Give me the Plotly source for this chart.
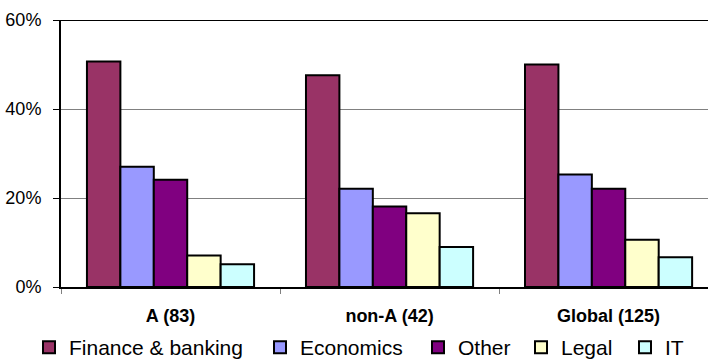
import plotly.graph_objects as go

# Share of respondents by field of study, per group
groups = ["A (83)", "non-A (42)", "Global (125)"]
series_names = ["Finance & banking", "Economics", "Other", "Legal", "IT"]
finance = [50.7, 47.6, 50.0]
economics = [27.0, 22.1, 25.3]
other = [24.1, 18.1, 22.1]
legal = [7.1, 16.6, 10.6]
it = [5.1, 9.0, 6.7]
y_ticks = [0, 20, 40, 60]
y_tick_text = ["0%", "20%", "40%", "60%"]

series_values = [finance, economics, other, legal, it]
colors = ["#993366", "#9999FF", "#800080", "#FFFFCC", "#CCFFFF"]

FONT = "Arial, 'Liberation Sans', sans-serif"

# One legend box per series, laid out in a single row under the axis
legend_ids = ["legend", "legend2", "legend3", "legend4", "legend5"]
legend_x = [29, 260, 418, 521, 625]  # left edge of each legend box, px

fig = go.Figure()
for name, vals, col, lid in zip(series_names, series_values, colors, legend_ids):
    fig.add_trace(go.Bar(
        name=name, x=groups, y=vals, legend=lid,
        marker=dict(color=col, line=dict(color="black", width=2)),
    ))

W, H = 708, 360
legend_style = dict(
    orientation="h", xref="container", yref="container",
    xanchor="left", y=1 - 347.5 / H, yanchor="middle",
    font=dict(size=21, family=FONT), itemwidth=30,
    bgcolor="rgba(0,0,0,0)", borderwidth=0,
)
legends = {lid: dict(legend_style, x=lx / W) for lid, lx in zip(legend_ids, legend_x)}

fig.update_layout(
    width=W, height=H,
    margin=dict(l=61, r=0, t=20, b=73, autoexpand=False),
    paper_bgcolor="white", plot_bgcolor="white",
    barmode="group", bargap=0.237, bargroupgap=0,
    font=dict(family=FONT, color="black", size=18),
    showlegend=True,
    **legends,
)

fig.update_xaxes(
    type="category", range=[-0.5, 2.454],
    showline=True, linecolor="black", linewidth=2,
    ticks="outside", tickson="boundaries", ticklen=5, tickcolor="#808080",
    tickwidth=1, showgrid=False,
    tickfont=dict(size=18, family=FONT, weight="bold"),
    ticklabelstandoff=11,
)
fig.update_yaxes(
    range=[0, 60], tickvals=y_ticks, ticktext=y_tick_text,
    showline=True, linecolor="black", linewidth=2,
    ticks="outside", ticklen=6, tickcolor="black", tickwidth=1,
    showgrid=True, gridcolor="#808080", gridwidth=1, zeroline=False,
    tickfont=dict(size=18, family=FONT),
    ticklabelstandoff=8,
)

# Heavier top frame line of the plot area
fig.add_shape(type="line", xref="paper", yref="y", x0=0, x1=1, y0=60, y1=60,
              line=dict(color="black", width=2), layer="above")

fig.write_html("out.html")
